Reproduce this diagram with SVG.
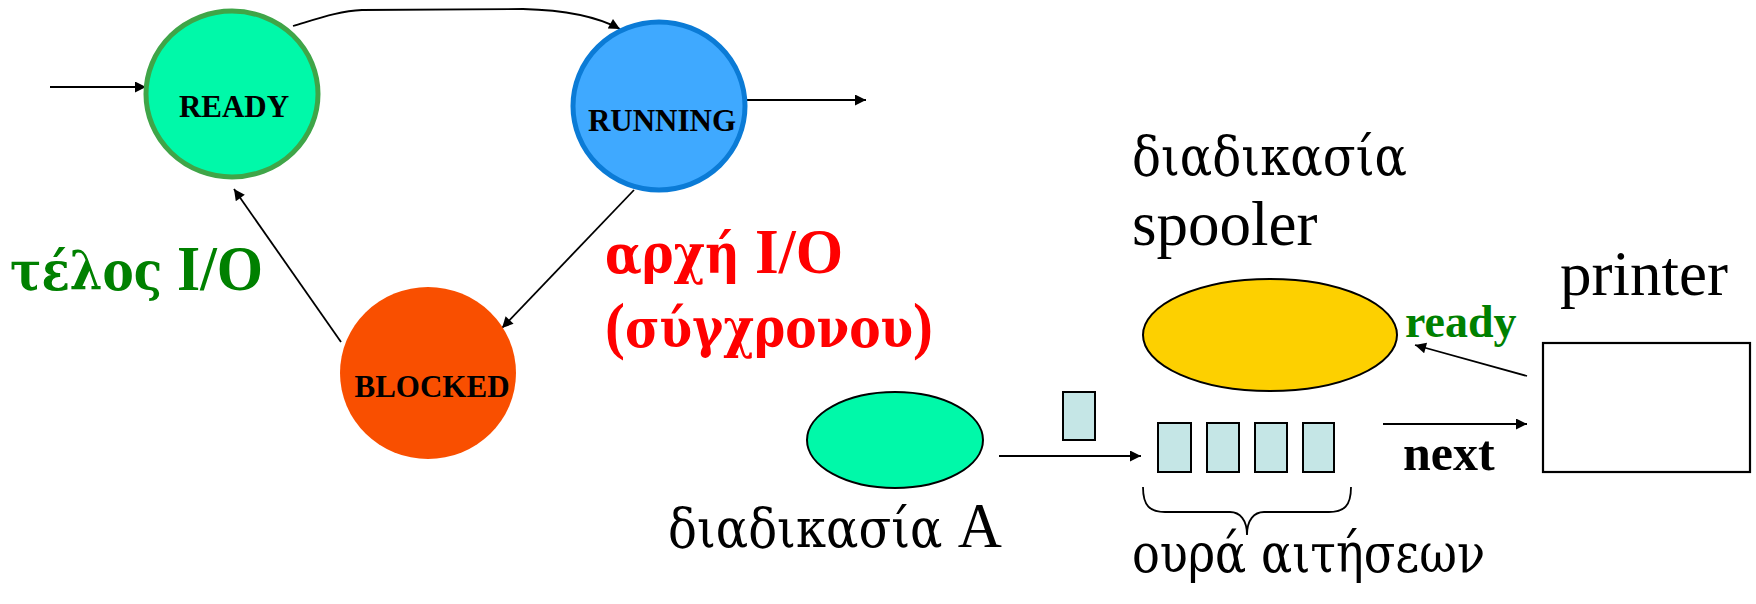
<svg xmlns="http://www.w3.org/2000/svg" width="1756" height="604" viewBox="0 0 1756 604">
<defs>
<marker id="ah" viewBox="0 0 10 10" refX="10" refY="5" markerWidth="14" markerHeight="11" markerUnits="userSpaceOnUse" orient="auto">
<path d="M0,0 L10,5 L0,10 Z" fill="#000"/>
</marker>
<style>
.state{font-family:"Liberation Serif","Times New Roman",serif;font-weight:bold;font-size:31px;fill:#000;text-anchor:middle}
.big{font-family:"Liberation Serif","Times New Roman",serif;font-size:63px;fill:#000}
.gr{font-family:"DejaVu Serif Condensed","DejaVu Serif",serif;font-size:55px}
.bold{font-weight:bold}
.edge{fill:none;stroke:#000;stroke-width:1.8;marker-end:url(#ah)}
.q{fill:#c5e6e6;stroke:#000;stroke-width:2}
</style>
</defs>
<rect width="1756" height="604" fill="#fff"/>

<g id="connectors">
<path class="edge" d="M50,87 L146,87" stroke-width="2.2"/>
<path class="edge" d="M293,26 C320,18 340,11 362,10 L523,9 C565,10 598,17 620,29"/>
<path class="edge" d="M746,100 L866,100" stroke-width="2.2"/>
<path class="edge" d="M634,190 L502,328"/>
<path class="edge" d="M341,342 L234,189"/>
<path class="edge" d="M999,456 L1141,456" stroke-width="2.2"/>
<path class="edge" d="M1383,424 L1527,424" stroke-width="2.2"/>
<path class="edge" d="M1527,376 L1415,345" stroke-width="2"/>
<path id="brace" d="M1143,487 C1143,506 1150,512 1165,512 L1230,512 C1240,512 1247,520 1247,535 C1247,520 1254,512 1264,512 L1329,512 C1344,512 1351,506 1351,487" fill="none" stroke="#000" stroke-width="1.8"/>
</g>

<g id="ready">
<ellipse cx="232" cy="94" rx="86" ry="83" fill="#00f9a9" stroke="#3fa548" stroke-width="5"/>
<text class="state" x="234" y="117">READY</text>
</g>
<g id="running">
<ellipse cx="659" cy="106" rx="86" ry="84" fill="#3fa9ff" stroke="#0b7bd6" stroke-width="5"/>
<text class="state" x="662" y="131">RUNNING</text>
</g>
<g id="blocked">
<ellipse cx="428" cy="373" rx="88" ry="86" fill="#f94f00"/>
<text class="state" x="432" y="397">BLOCKED</text>
</g>

<g id="label-end-io">
<text class="big bold" x="10" y="290" style="fill:#008000" textLength="253" lengthAdjust="spacingAndGlyphs"><tspan class="gr">τέλος</tspan> I/O</text>
</g>
<g id="label-start-io">
<text class="big bold" x="605" y="273" style="fill:#ff0000" textLength="238" lengthAdjust="spacingAndGlyphs"><tspan class="gr">αρχή</tspan> I/O</text>
<text class="big bold" x="605" y="347" style="fill:#ff0000" textLength="328" lengthAdjust="spacingAndGlyphs">(<tspan class="gr">σύγχρονου</tspan>)</text>
</g>

<g id="process-a">
<ellipse cx="895" cy="440" rx="88" ry="48" fill="#00f9a9" stroke="#000" stroke-width="2"/>
<text class="big" x="668" y="547" textLength="334" lengthAdjust="spacingAndGlyphs"><tspan class="gr">διαδικασία</tspan> A</text>
</g>

<g id="request">
<rect class="q" x="1063" y="392" width="32" height="48"/>
</g>

<g id="queue">
<rect class="q" x="1158" y="423" width="33" height="49"/>
<rect class="q" x="1207" y="423" width="32" height="49"/>
<rect class="q" x="1255" y="423" width="32" height="49"/>
<rect class="q" x="1303" y="423" width="31" height="49"/>
<text class="big gr" x="1132" y="572" textLength="353" lengthAdjust="spacingAndGlyphs">ουρά αιτήσεων</text>
</g>

<g id="spooler">
<ellipse cx="1270" cy="335" rx="127" ry="56" fill="#fdd000" stroke="#000" stroke-width="2"/>
<text class="big gr" x="1132" y="175" textLength="275" lengthAdjust="spacingAndGlyphs">διαδικασία</text>
<text class="big" x="1132" y="245">spooler</text>
</g>

<g id="printer">
<rect x="1543" y="343" width="207" height="129" fill="#fff" stroke="#000" stroke-width="2.2"/>
<text class="big" x="1560" y="295">printer</text>
</g>

<g id="edge-labels">
<text x="1405" y="337" font-family="Liberation Serif, Times New Roman, serif" font-weight="bold" font-size="46" fill="#008000">ready</text>
<text x="1403" y="470" font-family="Liberation Serif, Times New Roman, serif" font-weight="bold" font-size="50" fill="#000">next</text>
</g>
</svg>
